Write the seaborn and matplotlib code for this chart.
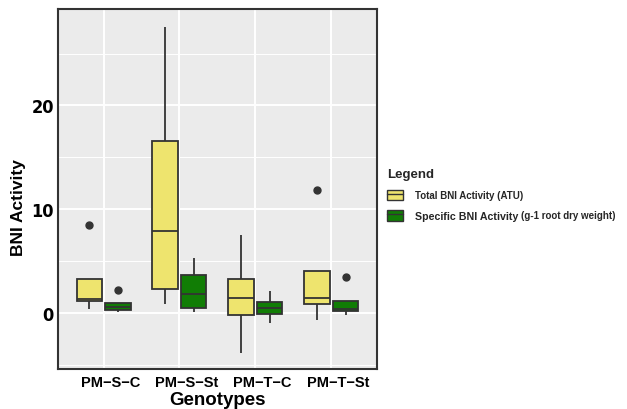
import pandas as pd
import numpy as np
import matplotlib as mpl
import matplotlib.pyplot as plt
import matplotlib.transforms as mtransforms
from matplotlib.patches import Patch
from matplotlib.lines import Line2D
from matplotlib.legend_handler import HandlerTuple
import seaborn as sns

# five-number summaries (top = upper whisker or outlier)
genotypes = ["PM\u2212S\u2212C", "PM\u2212S\u2212St", "PM\u2212T\u2212C", "PM\u2212T\u2212St"]
series = ["Total BNI Activity (ATU)", "Specific BNI Activity"]

total_low = [0.41, 0.83, -3.82, -0.71]
total_q1 = [1.12, 2.34, -0.16, 0.87]
total_med = [1.38, 7.86, 1.47, 1.41]
total_q3 = [3.27, 16.53, 3.30, 4.08]
total_top = [8.48, 27.55, 7.51, 11.88]

spec_low = [0.10, 0.10, -0.93, -0.16]
spec_q1 = [0.25, 0.48, -0.10, 0.15]
spec_med = [0.58, 1.83, 0.48, 0.41]
spec_q3 = [0.93, 3.62, 1.02, 1.18]
spec_top = [2.18, 5.30, 2.08, 3.43]

rows = []
for name, lo, q1, md, q3, tp in [
    (series[0], total_low, total_q1, total_med, total_q3, total_top),
    (series[1], spec_low, spec_q1, spec_med, spec_q3, spec_top),
]:
    for i, g in enumerate(genotypes):
        for v in [lo[i], q1[i], q1[i], md[i], q3[i], q3[i], tp[i]]:
            rows.append({"Genotypes": g, "Series": name, "BNI": v})
df = pd.DataFrame(rows)

sns.set_style("darkgrid", {"axes.facecolor": "#EBEBEB", "grid.color": "white"})
plt.rcParams["font.family"] = ["Liberation Sans", "DejaVu Sans"]

fig = plt.figure(figsize=(6.27, 4.10), dpi=100)
ax = fig.add_axes([0.0925, 0.0976, 0.5085, 0.878])

colors = ["#EEE46E", "#117D05"]
sns.boxplot(data=df, x="Genotypes", y="BNI", hue="Series", order=genotypes,
            hue_order=series, palette=colors, width=0.75, gap=0.1, ax=ax,
            linecolor="#333333", linewidth=1.3, saturation=1, legend=False,
            showcaps=False,
            flierprops=dict(marker="o", markerfacecolor="#333333",
                            markeredgecolor="#333333", markersize=5))

ax.set_xlim(-0.6, 3.6)
ax.set_ylim(-5.4, 29.3)
ax.set_yticks([0, 10, 20])
ax.set_yticks([-5, 5, 15, 25], minor=True)
ax.grid(True, which="major", color="white", linewidth=1.4)
ax.grid(True, which="minor", color="white", linewidth=0.7)
ax.grid(True, axis="x", color="white", linewidth=1.4)
ax.set_axisbelow(True)
ax.tick_params(axis="both", which="both", length=0, pad=4)
ax.tick_params(axis="y", pad=3)

for t in ax.get_yticklabels():
    t.set_family("DejaVu Sans")
    t.set_fontstretch("condensed")
    t.set_fontweight("bold")
    t.set_fontsize(13)
    t.set_color("black")
shift = mtransforms.ScaledTranslation(7 / 100, 0, fig.dpi_scale_trans)
for t in ax.get_xticklabels():
    t.set_fontweight("bold")
    t.set_fontsize(10.5)
    t.set_color("black")
    t.set_transform(t.get_transform() + shift)

ax.set_xlabel("Genotypes", fontsize=13.5, fontweight="bold", color="black", labelpad=2)
ax.set_ylabel("BNI Activity", fontsize=12.5, fontweight="bold", color="black")
ax.yaxis.set_label_coords(-0.10, 0.45)

for s in ax.spines.values():
    s.set_visible(True)
    s.set_color("#333333")
    s.set_linewidth(1.5)

handles = [(Patch(facecolor=c, edgecolor="#333333", linewidth=1.0),
            Line2D([], [], color="#333333", linewidth=1.0)) for c in colors]
leg = fig.legend(handles, series, loc="upper left", bbox_to_anchor=(0.603, 0.609),
                 title="Legend", frameon=False, handlelength=1.7, handleheight=1.3,
                 handletextpad=1.2, labelspacing=1.0,
                 handler_map={tuple: HandlerTuple(ndivide=1, pad=0)},
                 prop={"weight": "bold", "size": 7.0},
                 title_fontproperties={"weight": "bold", "size": 9.5})
leg._legend_box.align = "left"
leg.get_texts()[1].set_fontsize(7.7)

fig.canvas.draw()
bb = leg.get_texts()[1].get_window_extent()
fig.text((bb.x1 + 3) / fig.bbox.width, (bb.y0 + 1) / fig.bbox.height,
         "(g-1 root dry weight)", fontsize=7.0, fontweight="bold",
         ha="left", va="bottom")

fig.savefig("out.png", dpi=100)
